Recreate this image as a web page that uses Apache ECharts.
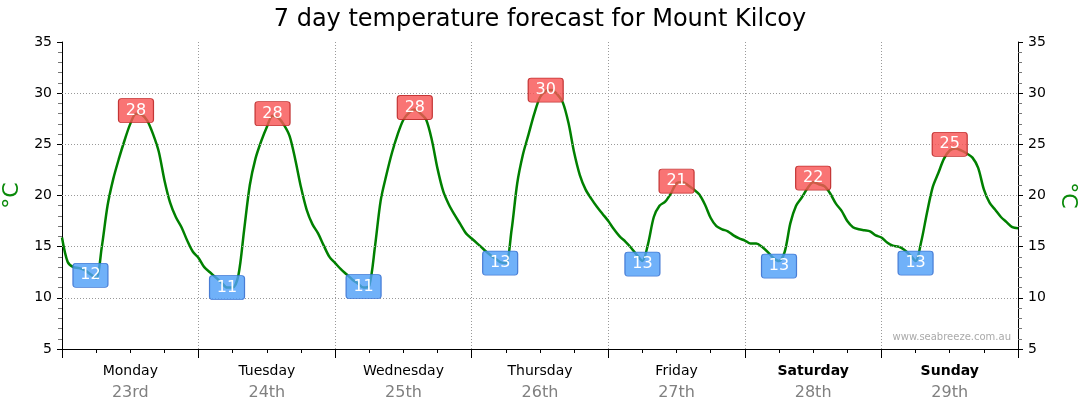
<!DOCTYPE html>
<html><head><meta charset="utf-8">
<script src="https://cdn.jsdelivr.net/npm/echarts@6/dist/echarts.min.js"></script>
<style>html,body{margin:0;padding:0;background:#fff}#c{width:1080px;height:414px}</style>
</head><body><div id="c"></div>
<script>
const titleText = '7 day temperature forecast for Mount Kilcoy';
const dayNames = ['Monday','Tuesday','Wednesday','Thursday','Friday','Saturday','Sunday'];
const dayDates = ['23rd','24th','25th','26th','27th','28th','29th'];
const boldDays = ['Saturday','Sunday'];
const yTicks = [5, 35, 5];           // min, max, interval
const gridValues = [10, 15, 20, 25, 30];
// hourly temperature, hour 0 .. 168
const temps = [
  15.9,13.5,13.0,12.9,12.7,12.3,11.9,15.0,19.0,21.6,23.6,25.4,27.0,28.0,27.9,27.3,26.0,24.3,21.5,19.3,17.9,16.9,15.6,14.5,
  13.9,13.0,12.5,12.0,11.5,11.0,11.0,12.2,16.6,21.0,23.6,25.3,26.7,27.8,27.6,26.9,25.8,23.5,20.8,18.6,17.2,16.3,15.1,14.0,
  13.4,12.8,12.3,11.8,11.4,11.0,11.2,15.0,19.5,22.0,24.2,26.0,27.4,28.1,28.4,28.0,27.4,25.4,22.6,20.4,19.1,18.1,17.2,16.3,
  15.8,15.3,14.8,14.3,13.9,13.5,13.4,16.6,21.2,24.0,26.0,28.0,29.6,30.2,30.3,29.9,29.1,27.1,24.2,22.0,20.6,19.7,18.9,18.2,
  17.5,16.7,16.0,15.5,14.9,14.2,13.6,15.3,17.9,19.0,19.4,20.2,21.2,21.3,21.0,20.6,20.1,19.1,17.8,17.0,16.7,16.5,16.1,15.8,
  15.6,15.3,15.3,15.0,14.5,13.9,13.6,14.5,17.3,19.0,19.8,20.7,21.3,21.1,20.9,20.2,19.2,18.5,17.5,16.9,16.7,16.6,16.5,16.1,
  15.9,15.4,15.1,15.0,14.7,14.2,13.6,15.5,18.3,20.8,22.2,23.6,24.4,24.6,24.4,24.1,23.7,22.7,20.6,19.3,18.6,17.9,17.4,16.9,
  16.8
];
const lowHours  = [5, 29, 53, 77, 102, 126, 150];
const lowY      = [12.2, 11.0, 11.1, 13.4, 13.3, 13.1, 13.4];
const lowText   = [12, 11, 11, 13, 13, 13, 13];
const highHours = [13, 37, 62, 85, 108, 132, 156];
const highY     = [28.3, 28.0, 28.6, 30.3, 21.4, 21.7, 25.0];
const highText  = [28, 28, 28, 30, 21, 22, 25];
const watermark = 'www.seabreeze.com.au';

const FONT = 'DejaVu Sans';
const BOX = 'path://M3,0 H32 Q35,0 35,3 V21 Q35,24 32,24 H3 Q0,24 0,21 V3 Q0,0 3,0 Z';
const chart = echarts.init(document.getElementById('c'));
const lineData = temps.map((v, i) => [i, v]);
const totalHours = temps.length - 1;

function boxSeries(hours, ys, texts, fill, border) {
  return {
    type: 'scatter', xAxisIndex: 0, yAxisIndex: 0, z: 10,
    symbol: BOX, symbolSize: [35, 24], silent: true,
    itemStyle: { color: fill, borderColor: border, borderWidth: 1, opacity: 1 },
    data: hours.map((h, i) => [h, ys[i], texts[i]]),
    label: {
      show: true, position: 'inside',
      formatter: p => String(p.value[2]),
      color: '#fff', fontFamily: FONT, fontSize: 16
    }
  };
}

function yAxisDef(pos) {
  return {
    type: 'value', min: yTicks[0], max: yTicks[1], interval: yTicks[2], position: pos,
    name: '°C', nameLocation: 'middle', nameGap: pos === 'left' ? 38 : 37,
    nameRotate: pos === 'left' ? 90 : -90,
    nameTextStyle: { color: '#0a8a0a', fontSize: 22, fontFamily: FONT },
    axisLine: { show: true, lineStyle: { color: '#000', width: 1 } },
    axisTick: { show: true, length: 5, lineStyle: { color: '#000' } },
    minorTick: { show: true, splitNumber: 5, length: 4, lineStyle: { color: '#777' } },
    axisLabel: { margin: 10, color: '#000', fontSize: 14, fontFamily: FONT },
    splitLine: { show: false }
  };
}

chart.setOption({
  animation: false,
  title: { text: titleText, left: 'center', top: 3,
    textStyle: { fontFamily: FONT, fontSize: 24, fontWeight: 'normal', color: '#000' } },
  grid: { left: 62, right: 62, top: 42, bottom: 65, containLabel: false, outerBoundsMode: 'none' },
  xAxis: [
    { type: 'value', min: 0, max: totalHours, interval: 24,
      axisLine: { lineStyle: { color: '#000' } },
      axisTick: { length: 9, lineStyle: { color: '#000' } },
      minorTick: { show: true, splitNumber: 4, length: 4, lineStyle: { color: '#000' } },
      axisLabel: { show: false },
      splitLine: { show: true, lineStyle: { type: [1, 2], color: '#999' } } },
    { type: 'category', data: dayNames, position: 'bottom', boundaryGap: true,
      axisLine: { show: false }, axisTick: { show: false }, splitLine: { show: false },
      axisLabel: { margin: 11, interval: 0,
        formatter: (v, i) => (boldDays.includes(v) ? '{b|' + v + '}' : '{a|' + v + '}') + '\n{d|' + dayDates[i] + '}',
        rich: {
          a: { fontFamily: FONT, fontSize: 14, color: '#000', lineHeight: 22 },
          b: { fontFamily: FONT, fontSize: 14, color: '#000', fontWeight: 'bold', lineHeight: 22 },
          d: { fontFamily: FONT, fontSize: 16, color: '#808080', lineHeight: 22 }
        } } }
  ],
  yAxis: [yAxisDef('left'), yAxisDef('right')],
  graphic: [{ type: 'text', right: 69, top: 332, silent: true,
    style: { text: watermark, fill: '#aaa', font: '10px "DejaVu Sans"' } }],
  series: [
    { type: 'line', xAxisIndex: 0, yAxisIndex: 0, data: lineData, smooth: 0.3,
      showSymbol: false, z: 3,
      lineStyle: { color: '#008000', width: 2.5 },
      markLine: { silent: true, symbol: 'none', label: { show: false },
        lineStyle: { type: [1, 2], color: '#999', width: 1 },
        data: gridValues.map(v => ({ yAxis: v })) } },
    boxSeries(lowHours, lowY, lowText, 'rgba(80,160,248,0.82)', 'rgba(60,115,210,0.9)'),
    boxSeries(highHours, highY, highText, 'rgba(248,85,85,0.82)', 'rgba(190,40,40,0.9)')
  ]
});
</script></body></html>
